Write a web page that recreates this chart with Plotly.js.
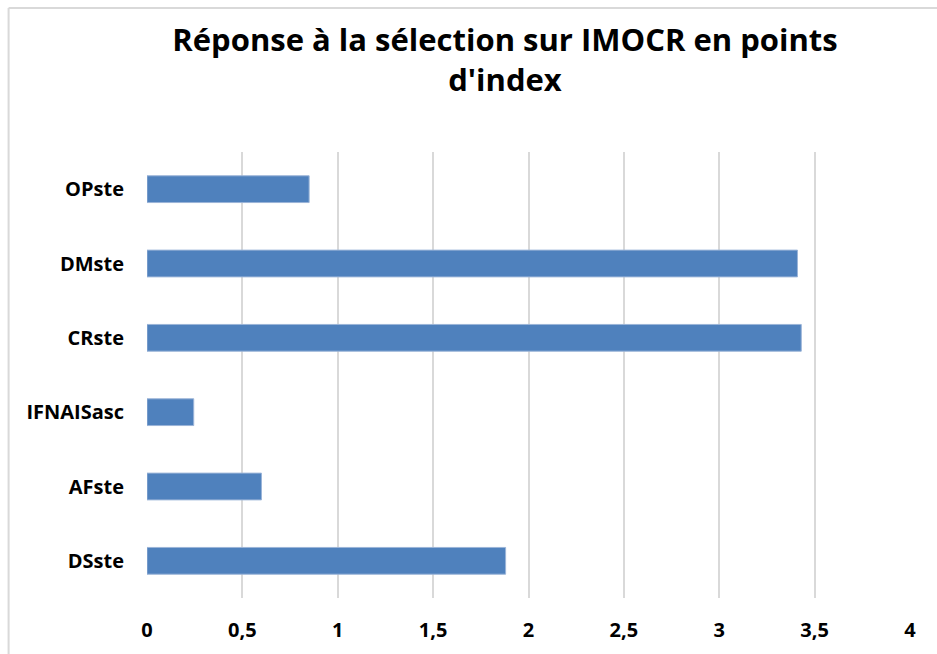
<!DOCTYPE html>
<html>
<head>
<meta charset="utf-8">
<script src="https://cdn.plot.ly/plotly-3.0.1.min.js"></script>
<style>html,body{margin:0;padding:0;background:#fff;}#chart{width:937px;height:654px;}</style>
</head>
<body>
<div id="chart"></div>
<script>
const categories = ["DSste", "AFste", "IFNAISasc", "CRste", "DMste", "OPste"];
const values = [1.88, 0.60, 0.245, 3.43, 3.41, 0.85];
const tickValues = [0, 0.5, 1, 1.5, 2, 2.5, 3, 3.5, 4];
const tickLabels = ["0", "0,5", "1", "1,5", "2", "2,5", "3", "3,5", "4"];
const titleText = "Réponse à la sélection sur IMOCR en points<br>d'index";

const FONT = "'Open Sans', sans-serif";

const L = 146.5, R = 27, T = 152, B = 56, W = 937, H = 654;
const pw = W - L - R, ph = H - T - B;
const px = x => (x - L) / pw;
const py = y => (H - B - y) / ph;

const trace = {
  type: "bar",
  orientation: "h",
  y: categories,
  x: values,
  marker: {color: "#4F81BD", line: {color: "#9BB4D8", width: 1}},
  hoverinfo: "x+y"
};

const layout = {
  width: W, height: H,
  margin: {l: L, r: R, t: T, b: B, pad: 0},
  paper_bgcolor: "#ffffff",
  plot_bgcolor: "#ffffff",
  bargap: 0.64,
  showlegend: false,
  title: {
    text: titleText,
    x: 505 / W, xanchor: "center", xref: "container",
    y: 1 - 51 / H, yanchor: "middle", yref: "container",
    font: {family: FONT, size: 31, color: "#000000", weight: "bold"}
  },
  xaxis: {
    range: [0, 4],
    tickvals: tickValues,
    ticktext: tickLabels,
    showgrid: true,
    gridcolor: "#D9D9D9",
    gridwidth: 2,
    zeroline: false,
    showline: false,
    ticks: "",
    ticklabelstandoff: 18,
    tickfont: {family: FONT, size: 20, color: "#000000", weight: "bold"},
    fixedrange: true
  },
  yaxis: {
    type: "category",
    categoryorder: "array",
    categoryarray: categories,
    showgrid: false,
    zeroline: false,
    showline: false,
    ticks: "",
    ticklabelstandoff: 22,
    tickfont: {family: FONT, size: 20, color: "#000000", weight: "bold"},
    fixedrange: true
  },
  shapes: [
    {type: "line", xref: "paper", yref: "paper", x0: px(8), x1: px(W), y0: py(8), y1: py(8),
     line: {color: "#D9D9D9", width: 2}, layer: "below"},
    {type: "line", xref: "paper", yref: "paper", x0: px(8), x1: px(8), y0: py(8), y1: py(H),
     line: {color: "#D9D9D9", width: 2}, layer: "below"}
  ]
};

Plotly.newPlot("chart", [trace], layout, {displayModeBar: false, staticPlot: true});
</script>
</body>
</html>
